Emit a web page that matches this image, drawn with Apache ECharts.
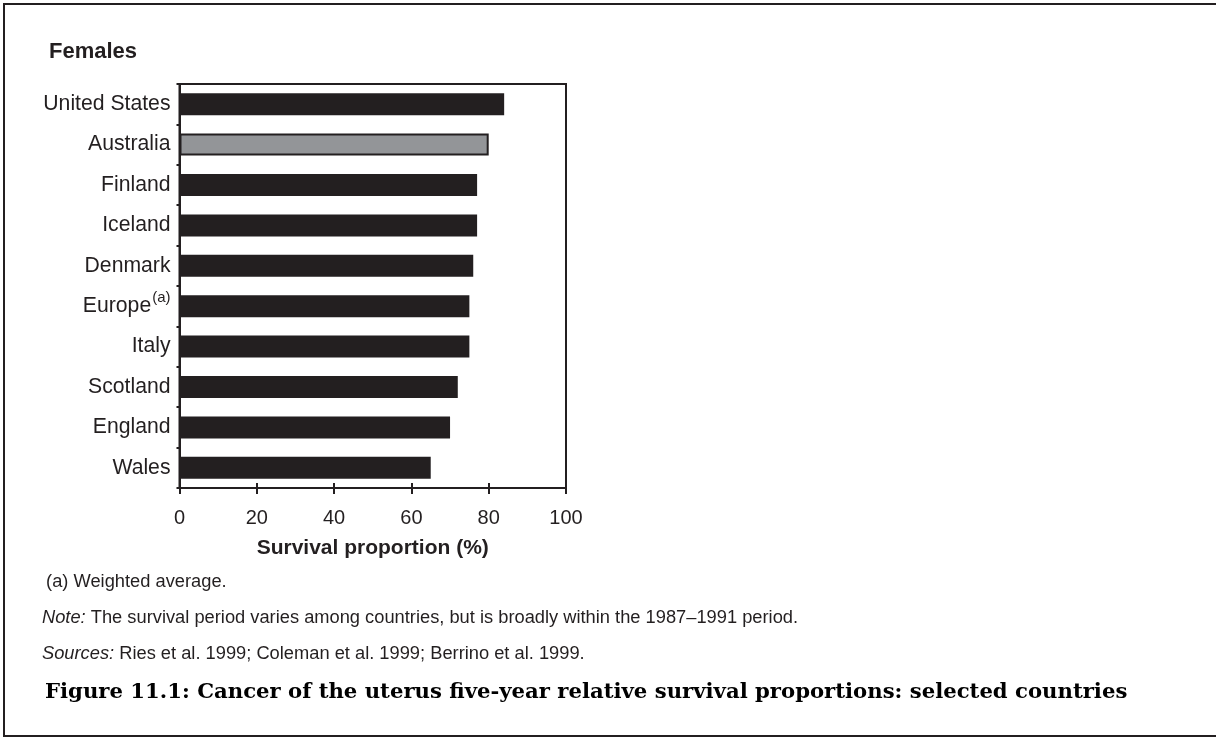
<!DOCTYPE html>
<html>
<head>
<meta charset="utf-8">
<script src="https://cdn.jsdelivr.net/npm/echarts@6/dist/echarts.min.js"></script>
<style>
html,body{margin:0;padding:0;background:#fff;}
#chart{width:1216px;height:738px;}
</style>
</head>
<body>
<div id="chart"></div>
<script>
const categories = ['United States','Australia','Finland','Iceland','Denmark','Europe','Italy','Scotland','England','Wales'];
const survival = [84, 80, 77, 77, 76, 75, 75, 72, 70, 65];
const highlighted = 'Australia';
const superscripted = 'Europe';
const xTicks = [0, 20, 40, 60, 80, 100];

const panelLabel = 'Females';
const axisTitle = 'Survival proportion (%)';
const footnote = '(a) Weighted average.';
const noteLabel = 'Note:';
const noteText = ' The survival period varies among countries, but is broadly within the 1987\u20131991 period.';
const sourcesLabel = 'Sources:';
const sourcesText = ' Ries et al. 1999; Coleman et al. 1999; Berrino et al. 1999.';
const caption = 'Figure 11.1: Cancer of the uterus five-year relative survival proportions: selected countries';

const INK = '#231f20';
const GREY = '#939598';
const SANS = '"Liberation Sans", Arial, sans-serif';

const chart = echarts.init(document.getElementById('chart'), null, {renderer: 'canvas'});

const barData = categories.map((c, i) => ({
  value: survival[i],
  itemStyle: c === highlighted
    ? {color: GREY, borderColor: INK, borderWidth: 2}
    : {color: INK}
}));

const option = {
  backgroundColor: '#fff',
  animation: false,
  grid: {
    left: 179.5, right: 650, top: 84, bottom: 250,
    show: true, borderColor: INK, borderWidth: 2, backgroundColor: 'transparent'
  },
  xAxis: [{
    type: 'value', min: xTicks[0], max: xTicks[xTicks.length - 1], interval: 20,
    position: 'bottom',
    splitLine: {show: false},
    axisLine: {show: true, lineStyle: {color: INK, width: 2}},
    axisTick: {show: true, length: 6, lineStyle: {color: INK, width: 2}},
    axisLabel: {color: INK, fontSize: 20, fontFamily: SANS, margin: 20},
    name: axisTitle, nameLocation: 'middle', nameGap: 50,
    nameTextStyle: {color: INK, fontSize: 21, fontWeight: 'bold', fontFamily: SANS}
  }, {
    type: 'value', min: xTicks[0], max: xTicks[xTicks.length - 1], interval: 20,
    position: 'bottom',
    splitLine: {show: false},
    axisLine: {show: false},
    axisTick: {show: true, inside: true, length: 5, lineStyle: {color: INK, width: 2}},
    axisLabel: {show: false}
  }],
  yAxis: {
    type: 'category', data: categories, inverse: true,
    axisLine: {show: true, lineStyle: {color: INK, width: 2}},
    axisTick: {show: true, length: 3, lineStyle: {color: INK, width: 2}},
    axisLabel: {
      color: INK, fontSize: 21.2, fontFamily: SANS, margin: 9,
      formatter: v => v === superscripted ? '{n|' + v + '}{s|(a)}' : v,
      rich: {
        n: {fontSize: 21.2, color: INK, fontFamily: SANS, lineHeight: 22},
        s: {fontSize: 15, color: INK, fontFamily: SANS, padding: [0, 0, 17, 1]}
      }
    }
  },
  series: [{
    type: 'bar', data: barData, barWidth: 22, xAxisIndex: 0
  }],
  graphic: [
    {type: 'polyline', shape: {points: [[1216, 4], [4, 4], [4, 736], [1216, 736]]},
     style: {stroke: INK, lineWidth: 2, fill: null}, silent: true},
    {type: 'text', left: 49, top: 41,
     style: {text: panelLabel, fill: INK, font: 'bold 22px ' + SANS}},
    {type: 'text', left: 41, top: 573,
     style: {text: ' ' + footnote, fill: INK, font: '18.3px ' + SANS}},
    {type: 'text', left: 42, top: 609,
     style: {text: '{i|' + noteLabel + '}' + noteText, fill: INK, font: '18.3px ' + SANS,
       rich: {i: {fontStyle: 'italic', fontSize: 18.3, fill: INK, fontFamily: SANS}}}},
    {type: 'text', left: 42, top: 645,
     style: {text: '{i|' + sourcesLabel + '}' + sourcesText, fill: INK, font: '18.3px ' + SANS,
       rich: {i: {fontStyle: 'italic', fontSize: 18.3, fill: INK, fontFamily: SANS}}}},
    {type: 'text', left: 45, top: 682,
     style: {text: caption, fill: '#000', font: 'bold 21.2px "DejaVu Serif", serif'}}
  ]
};
chart.setOption(option);
</script>
</body>
</html>
